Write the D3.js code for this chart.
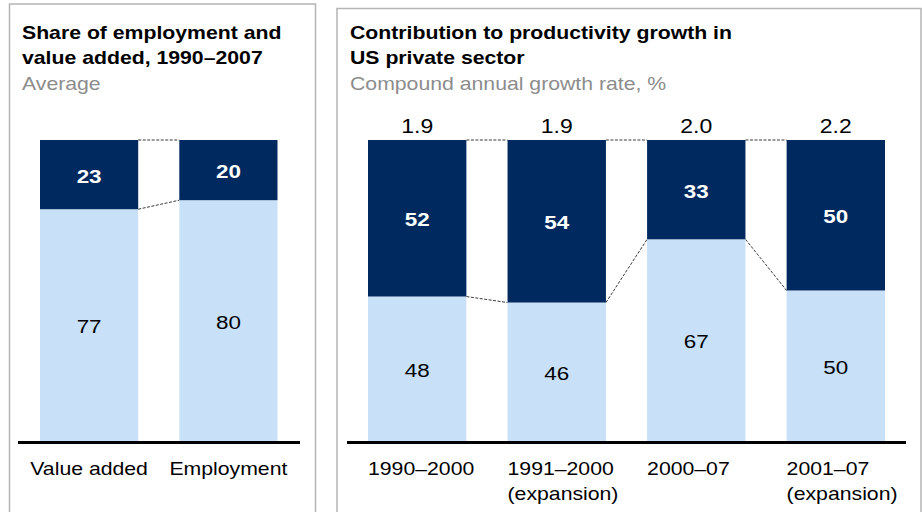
<!DOCTYPE html>
<html>
<head>
<meta charset="utf-8">
<script src="https://cdn.jsdelivr.net/npm/d3@7"></script>
<style>
  html, body { margin: 0; padding: 0; background: #fff; }
  svg { display: block; font-family: "Liberation Sans", Arial, sans-serif; }
</style>
</head>
<body>
<svg id="chart" width="922" height="512"></svg>
<script>
// Share of employment and value added, 1990–2007 (average, %)
const shareCategories = ["Value added", "Employment"];
const shareUpper = [23, 20];
const shareLower = [77, 80];

// Contribution to productivity growth, US private sector
const growthCategories = [
  ["1990–2000"],
  ["1991–2000", "(expansion)"],
  ["2000–07"],
  ["2001–07", "(expansion)"]
];
const growthTotals = [1.9, 1.9, 2.0, 2.2];
const growthUpper = [52, 54, 33, 50];
const growthLower = [48, 46, 67, 50];

const DARK = "#002a5f";
const LIGHT = "#c8e0f8";
const STRETCH = 1.18; // wide-set lettering

const svg = d3.select("#chart");

// Text helper: positions via transform so the glyphs can be widened
function label(g, x, y, str, opts = {}) {
  return g.append("text")
    .attr("transform", `translate(${x},${y}) scale(${STRETCH},1)`)
    .attr("text-anchor", opts.anchor || "start")
    .attr("font-size", opts.size || 18)
    .attr("font-weight", opts.weight || "normal")
    .attr("fill", opts.fill || "#000")
    .text(str);
}

const y = d3.scaleLinear().domain([0, 100]).range([441, 140]);

function panel(cfg) {
  const g = svg.append("g");

  // frame
  g.append("rect")
    .attr("x", cfg.frame[0]).attr("y", cfg.frame[1])
    .attr("width", cfg.frame[2]).attr("height", cfg.frame[3])
    .attr("fill", "none").attr("stroke", "#b4b4b4").attr("stroke-width", 1.5);

  // titles
  cfg.title.forEach((t, i) => label(g, cfg.textX, 39 + i * 25, t, { weight: "bold" }));
  label(g, cfg.textX, 90, cfg.subtitle, { fill: "#8c8c8c" });

  const x = d3.scaleBand()
    .domain(d3.range(cfg.upper.length))
    .range(cfg.range)
    .paddingInner(0.295)
    .paddingOuter(0);

  const idx = d3.range(cfg.upper.length);

  // connectors between adjacent bars
  const conn = g.append("g")
    .attr("stroke", "#3a3a3a").attr("stroke-width", 1)
    .attr("stroke-dasharray", "3,1.5").attr("fill", "none");
  idx.slice(0, -1).forEach(i => {
    conn.append("line")
      .attr("x1", x(i) + x.bandwidth()).attr("x2", x(i + 1))
      .attr("y1", y(100)).attr("y2", y(100));
    conn.append("line")
      .attr("x1", x(i) + x.bandwidth()).attr("x2", x(i + 1))
      .attr("y1", y(cfg.lower[i])).attr("y2", y(cfg.lower[i + 1]));
  });

  // lower segments
  g.selectAll(".lower").data(idx).join("rect")
    .attr("x", i => x(i)).attr("width", x.bandwidth())
    .attr("y", i => y(cfg.lower[i]))
    .attr("height", i => y(0) - y(cfg.lower[i]))
    .attr("fill", LIGHT);

  // upper segments
  g.selectAll(".upper").data(idx).join("rect")
    .attr("x", i => x(i)).attr("width", x.bandwidth())
    .attr("y", i => y(cfg.lower[i] + cfg.upper[i]))
    .attr("height", i => y(cfg.lower[i]) - y(cfg.lower[i] + cfg.upper[i]))
    .attr("fill", DARK);

  // segment values
  idx.forEach(i => {
    const cx = x(i) + x.bandwidth() / 2;
    const upMid = (y(cfg.lower[i] + cfg.upper[i]) + y(cfg.lower[i])) / 2;
    const loMid = (y(0) + y(cfg.lower[i])) / 2;
    label(g, cx, upMid + 8, cfg.upper[i], { anchor: "middle", weight: "bold", fill: "#fff", size: 19 });
    label(g, cx, loMid + 8, cfg.lower[i], { anchor: "middle", size: 19 });
  });

  // totals above bars
  if (cfg.totals) {
    idx.forEach(i => label(g, x(i) + x.bandwidth() / 2, 132.5, d3.format(".1f")(cfg.totals[i]), { anchor: "middle", size: 19.5 }));
  }

  // baseline
  g.append("line")
    .attr("x1", cfg.axis[0]).attr("x2", cfg.axis[1])
    .attr("y1", 442.5).attr("y2", 442.5)
    .attr("stroke", "#000").attr("stroke-width", 3);

  // category labels
  idx.forEach(i => {
    const lines = [].concat(cfg.categories[i]);
    const lx = cfg.catAnchor === "middle" ? x(i) + x.bandwidth() / 2 : x(i);
    lines.forEach((t, j) => label(g, lx, 475 + j * 25, t, { anchor: cfg.catAnchor }));
  });
}

panel({
  frame: [9.5, 4, 306, 520],
  textX: 22,
  title: ["Share of employment and", "value added, 1990–2007"],
  subtitle: "Average",
  range: [40, 277.5],
  axis: [18, 300],
  upper: shareUpper,
  lower: shareLower,
  categories: shareCategories,
  catAnchor: "middle"
});

panel({
  frame: [337, 8.5, 584, 520],
  textX: 350,
  title: ["Contribution to productivity growth in", "US private sector"],
  subtitle: "Compound annual growth rate, %",
  range: [368, 885],
  axis: [347, 906],
  upper: growthUpper,
  lower: growthLower,
  totals: growthTotals,
  categories: growthCategories,
  catAnchor: "start"
});
</script>
</body>
</html>
